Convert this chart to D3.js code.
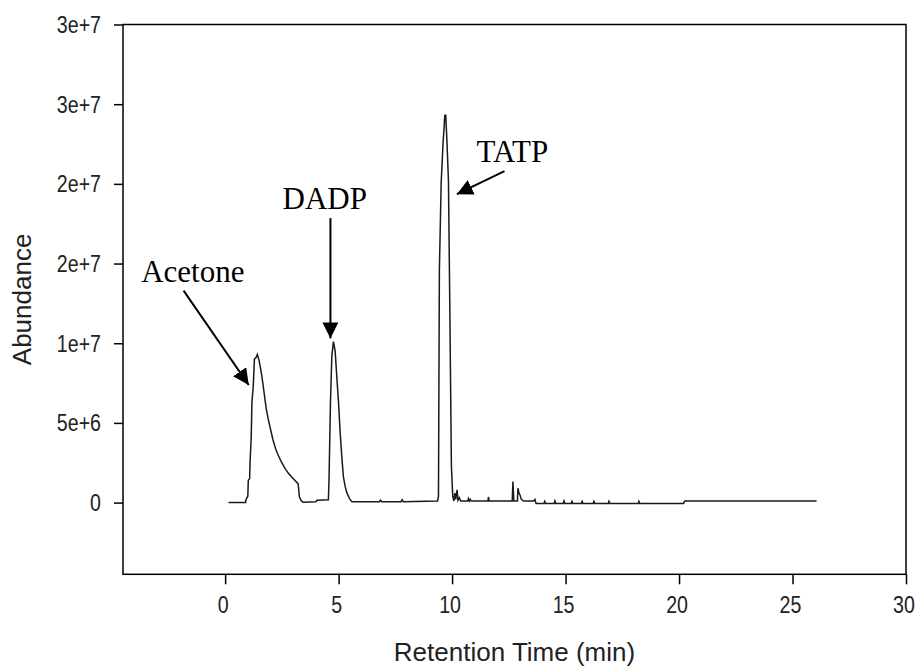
<!DOCTYPE html>
<html>
<head>
<meta charset="utf-8">
<script src="https://cdn.jsdelivr.net/npm/d3@7"></script>
<style>
  html, body { margin: 0; padding: 0; background: #fff; }
  svg { display: block; }
</style>
</head>
<body>
<svg id="chart" width="919" height="667"></svg>
<script>
// ---- data (minutes, counts) ----
const retentionTime = [
  0.15, 0.90, 0.92, 1.00, 1.02, 1.08, 1.10, 1.15, 1.18, 1.24, 1.29, 1.36, 1.42, 1.49, 1.55, 1.60,
  1.67, 1.74, 1.81, 1.89, 2.00, 2.11, 2.22, 2.33, 2.48, 2.63, 2.78, 2.93, 3.08, 3.22, 3.27, 3.35,
  3.44, 4.00, 4.05, 4.55, 4.58, 4.64, 4.70, 4.77, 4.80, 4.85, 4.92, 5.00, 5.07, 5.14, 5.21, 5.29,
  5.37, 5.48, 5.59, 6.80, 6.84, 6.90, 7.75, 7.80, 7.85, 9.36, 9.40, 9.44, 9.52, 9.60, 9.68, 9.72,
  9.77, 9.84, 9.90, 9.97, 10.03, 10.08, 10.12, 10.16, 10.22, 10.26, 10.32, 10.38, 10.69, 10.72, 10.76, 10.80,
  10.84, 11.58, 11.60, 11.64, 12.65, 12.68, 12.72, 12.88, 12.90, 12.95, 13.00, 13.05, 13.15, 13.60, 13.65, 13.70,
  14.05, 14.08, 14.12, 14.50, 14.53, 14.57, 14.90, 14.93, 14.97, 15.25, 15.28, 15.32, 15.70, 15.73, 15.77, 16.22,
  16.25, 16.29, 16.88, 16.91, 16.95, 18.20, 18.23, 18.27, 20.20, 20.25, 26.06
];
const abundance = [
  0.00e6, 0.00e6, 0.20e6, 0.40e6, 1.40e6, 1.50e6, 2.60e6, 4.10e6, 6.30e6, 7.30e6, 9.00e6, 9.10e6, 9.30e6, 8.95e6, 8.50e6, 8.10e6,
  7.40e6, 6.65e6, 5.90e6, 5.30e6, 4.60e6, 3.93e6, 3.40e6, 3.00e6, 2.55e6, 2.16e6, 1.85e6, 1.60e6, 1.38e6, 1.17e6, 0.38e6, 0.12e6,
  0.02e6, 0.05e6, 0.15e6, 0.18e6, 1.60e6, 6.20e6, 9.16e6, 10.10e6, 9.90e6, 9.47e6, 7.90e6, 6.20e6, 4.35e6, 2.90e6, 1.63e6, 1.00e6,
  0.59e6, 0.25e6, 0.06e6, 0.06e6, 0.15e6, 0.06e6, 0.06e6, 0.18e6, 0.06e6, 0.10e6, 0.40e6, 14.6e6, 20.1e6, 22.5e6, 24.3e6, 24.3e6,
  22.8e6, 20.2e6, 12.2e6, 2.26e6, 0.38e6, 0.10e6, 0.60e6, 0.20e6, 0.80e6, 0.15e6, 0.30e6, 0.10e6, 0.10e6, 0.25e6, 0.10e6, 0.20e6,
  0.10e6, 0.10e6, 0.35e6, 0.10e6, 0.10e6, 1.32e6, 0.10e6, 0.10e6, 0.90e6, 0.60e6, 0.45e6, 0.20e6, 0.10e6, 0.10e6, 0.20e6, -0.05e6,
  -0.05e6, 0.08e6, -0.05e6, -0.05e6, 0.10e6, -0.05e6, -0.05e6, 0.10e6, -0.05e6, -0.05e6, 0.08e6, -0.05e6, -0.05e6, 0.08e6, -0.05e6, -0.05e6,
  0.08e6, -0.05e6, -0.05e6, 0.08e6, -0.05e6, -0.05e6, 0.08e6, -0.05e6, -0.05e6, 0.10e6, 0.10e6
];

const xTicks = [0, 5, 10, 15, 20, 25, 30];
const yTicks = [0, 5e6, 1e7, 1.5e7, 2e7, 2.5e7, 3e7];
const yTickLabels = ['0', '5e+6', '1e+7', '2e+7', '2e+7', '3e+7', '3e+7'];

// peak annotations: label anchor, arrow start, arrow tip (data units)
const peakNames = ['Acetone', 'DADP', 'TATP'];
const labelTime = [-3.70, 2.53, 11.08];
const labelAbundance = [13.85e6, 18.4e6, 21.37e6];
const arrowFromTime = [-1.83, 4.64, 12.31];
const arrowFromAbundance = [13.3e6, 17.85e6, 20.8e6];
const arrowToTime = [1.04, 4.64, 10.21];
const arrowToAbundance = [7.38e6, 10.3e6, 19.35e6];

// ---- layout ----
const plotLeft = 123, plotRight = 906, plotTop = 24.5, plotBottom = 574.3;
const tickFont = 'Liberation Sans, Arial, sans-serif';
const squeeze = 0.8;   // the original tick font is narrow

const svg = d3.select('#chart');

const x = d3.scaleLinear().domain([-4.5, 30]).range([plotLeft, plotRight]);
const y = d3.scaleLinear().domain([-4.5e6, 3e7]).range([plotBottom, plotTop]);

// narrow a text node horizontally
const narrow = sel => sel.each(function () {
  const w = this.getComputedTextLength();
  d3.select(this).attr('textLength', w * squeeze).attr('lengthAdjust', 'spacingAndGlyphs');
});

// axes
const gx = svg.append('g')
  .attr('transform', `translate(0,${plotBottom})`)
  .call(d3.axisBottom(x).tickValues(xTicks).tickFormat(d3.format('d'))
    .tickSize(10).tickSizeOuter(0).tickPadding(11));
const gy = svg.append('g')
  .attr('transform', `translate(${plotLeft},0)`)
  .call(d3.axisLeft(y).tickValues(yTicks).tickFormat((d, i) => yTickLabels[i])
    .tickSize(9).tickSizeOuter(0).tickPadding(13));

[gx, gy].forEach(g => {
  g.select('.domain').remove();
  g.selectAll('line').attr('stroke', '#000').attr('stroke-width', 1.5);
  g.selectAll('text')
    .attr('fill', '#222')
    .style('font-family', tickFont)
    .style('font-size', '24.5px')
    .call(narrow);
});
// labels sit a touch left of their ticks in the original
gx.selectAll('text').attr('dx', -2.5);

// frame
svg.append('rect')
  .attr('x', plotLeft).attr('y', plotTop)
  .attr('width', plotRight - plotLeft).attr('height', plotBottom - plotTop)
  .attr('fill', 'none').attr('stroke', '#000').attr('stroke-width', 1.5);

// trace
const points = d3.zip(retentionTime, abundance);
svg.append('path')
  .datum(points)
  .attr('fill', 'none')
  .attr('stroke', '#1a1a1a')
  .attr('stroke-width', 1.5)
  .attr('stroke-linejoin', 'miter')
  .attr('d', d3.line().x(d => x(d[0])).y(d => y(d[1])));

// axis titles
svg.append('text')
  .attr('x', (plotLeft + plotRight) / 2).attr('y', 661)
  .attr('text-anchor', 'middle')
  .attr('fill', '#222')
  .style('font-family', tickFont).style('font-size', '26px')
  .text('Retention Time (min)');
svg.append('text')
  .attr('transform', `translate(31,${(plotTop + plotBottom) / 2}) rotate(-90)`)
  .attr('text-anchor', 'middle')
  .attr('fill', '#222')
  .style('font-family', tickFont).style('font-size', '26px')
  .text('Abundance');

// arrowheads
svg.append('defs').append('marker')
  .attr('id', 'head')
  .attr('markerUnits', 'userSpaceOnUse')
  .attr('viewBox', '0 0 16 16')
  .attr('refX', 16).attr('refY', 8)
  .attr('markerWidth', 16).attr('markerHeight', 16)
  .attr('orient', 'auto')
  .append('path').attr('d', 'M0,0 L16,8 L0,16 Z').attr('fill', '#000');

const notes = svg.append('g');
peakNames.forEach((name, i) => {
  notes.append('text')
    .attr('x', x(labelTime[i])).attr('y', y(labelAbundance[i]))
    .attr('fill', '#000')
    .style('font-family', 'Liberation Serif, Times New Roman, serif')
    .style('font-size', '31px')
    .text(name);
  notes.append('line')
    .attr('x1', x(arrowFromTime[i])).attr('y1', y(arrowFromAbundance[i]))
    .attr('x2', x(arrowToTime[i])).attr('y2', y(arrowToAbundance[i]))
    .attr('stroke', '#000').attr('stroke-width', 2)
    .attr('marker-end', 'url(#head)');
});
</script>
</body>
</html>
